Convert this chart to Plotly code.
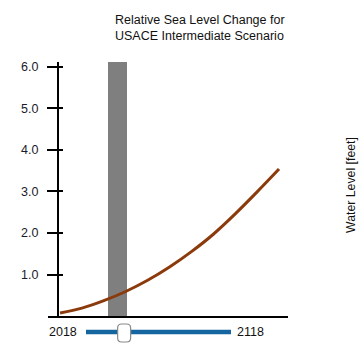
import plotly.graph_objects as go

years = [2018, 2028, 2038, 2048, 2058, 2068, 2078, 2088, 2098, 2108, 2118]
sea_level_ft = [0.07, 0.19, 0.37, 0.59, 0.86, 1.18, 1.55, 1.97, 2.46, 2.99, 3.54]
y_tick_vals = [1, 2, 3, 4, 5, 6]
y_tick_text = ["1.0", "2.0", "3.0", "4.0", "5.0", "6.0"]
selected_year = 2044.3
window_years = 8.7
slider_start, slider_end = 2018, 2118
title_text = "Relative Sea Level Change for<br>USACE Intermediate Scenario"
y_label = "Water Level [feet]"

FONT = "Liberation Sans, Arial, sans-serif"
Y_TOP = 6.12

fig = go.Figure()
fig.add_trace(go.Scatter(x=years, y=sea_level_ft, mode="lines",
                         line=dict(color="#8b3a0c", width=3, shape="spline"),
                         hoverinfo="skip", showlegend=False))
fig.add_trace(go.Bar(x=[selected_year], y=[Y_TOP], width=[window_years],
                     marker=dict(color="rgba(0,0,0,0.5)", line=dict(width=0)),
                     hoverinfo="skip", showlegend=False))

axis_pos = 10 / 240
fig.update_layout(
    width=360, height=360,
    margin=dict(l=48, r=72, t=62, b=44),
    paper_bgcolor="white", plot_bgcolor="white",
    font=dict(family=FONT, color="#111"),
    bargap=0,
    xaxis=dict(range=[2012.5, 2122.1], showline=True, linecolor="black", linewidth=2,
               showticklabels=False, ticks="", showgrid=False, zeroline=False,
               fixedrange=True),
    yaxis=dict(range=[0, Y_TOP], anchor="free", position=axis_pos,
               showline=True, linecolor="black", linewidth=2,
               ticks="outside", ticklen=10, tickwidth=2, tickcolor="black",
               tickvals=y_tick_vals, ticktext=y_tick_text, ticklabelstandoff=6,
               tickfont=dict(size=12.5, color="#1a1a2a", family=FONT),
               showgrid=False, zeroline=False, fixedrange=True),
    yaxis2=dict(range=[0, Y_TOP], anchor="free", position=axis_pos, overlaying="y",
                showline=False, ticks="inside", ticklen=4, tickwidth=2, tickcolor="black",
                tickvals=y_tick_vals, showticklabels=False,
                showgrid=False, zeroline=False, fixedrange=True),
)
fig.add_trace(go.Scatter(x=[None], y=[None], yaxis="y2", showlegend=False, hoverinfo="skip"))

def px_x(px):
    return (px - 48) / 240

def px_y(py):
    return (316 - py) / 254

fig.add_annotation(text=title_text, x=px_x(113), y=px_y(28), xref="paper", yref="paper",
                   xanchor="left", yanchor="middle", align="left", showarrow=False,
                   font=dict(size=12.5, family=FONT, color="#111"))
fig.add_annotation(text=y_label, x=px_x(351), y=px_y(185), xref="paper", yref="paper",
                   textangle=-90, showarrow=False, xanchor="center", yanchor="middle",
                   font=dict(size=12.3, family=FONT, color="#111"))

# slider
track_x0, track_x1 = px_x(86), px_x(231)
track_y = px_y(332)
fig.add_shape(type="line", xref="paper", yref="paper", x0=track_x0, x1=track_x1,
              y0=track_y, y1=track_y, line=dict(color="#1565a0", width=4.5))
frac = (selected_year - slider_start) / (slider_end - slider_start)
hx_px = 86 + frac * (231 - 86)
l, r, t, b, rad = hx_px - 6.5, hx_px + 6.5, 324, 342, 4
pts = [
    f"M {px_x(l + rad)},{px_y(t)}", f"L {px_x(r - rad)},{px_y(t)}",
    f"Q {px_x(r)},{px_y(t)} {px_x(r)},{px_y(t + rad)}", f"L {px_x(r)},{px_y(b - rad)}",
    f"Q {px_x(r)},{px_y(b)} {px_x(r - rad)},{px_y(b)}", f"L {px_x(l + rad)},{px_y(b)}",
    f"Q {px_x(l)},{px_y(b)} {px_x(l)},{px_y(b - rad)}", f"L {px_x(l)},{px_y(t + rad)}",
    f"Q {px_x(l)},{px_y(t)} {px_x(l + rad)},{px_y(t)}", "Z",
]
fig.add_shape(type="path", xref="paper", yref="paper", path=" ".join(pts),
              fillcolor="white", line=dict(color="#8a8a8a", width=1.2))
fig.add_annotation(text=str(slider_start), x=px_x(63), y=track_y, xref="paper", yref="paper",
                   showarrow=False, xanchor="center", yanchor="middle",
                   font=dict(size=12.5, family=FONT, color="#111"))
fig.add_annotation(text=str(slider_end), x=px_x(250), y=track_y, xref="paper", yref="paper",
                   showarrow=False, xanchor="center", yanchor="middle",
                   font=dict(size=12.5, family=FONT, color="#111"))

fig.write_html("out.html", config=dict(displayModeBar=False),
               post_script="document.body.style.margin='0';")
